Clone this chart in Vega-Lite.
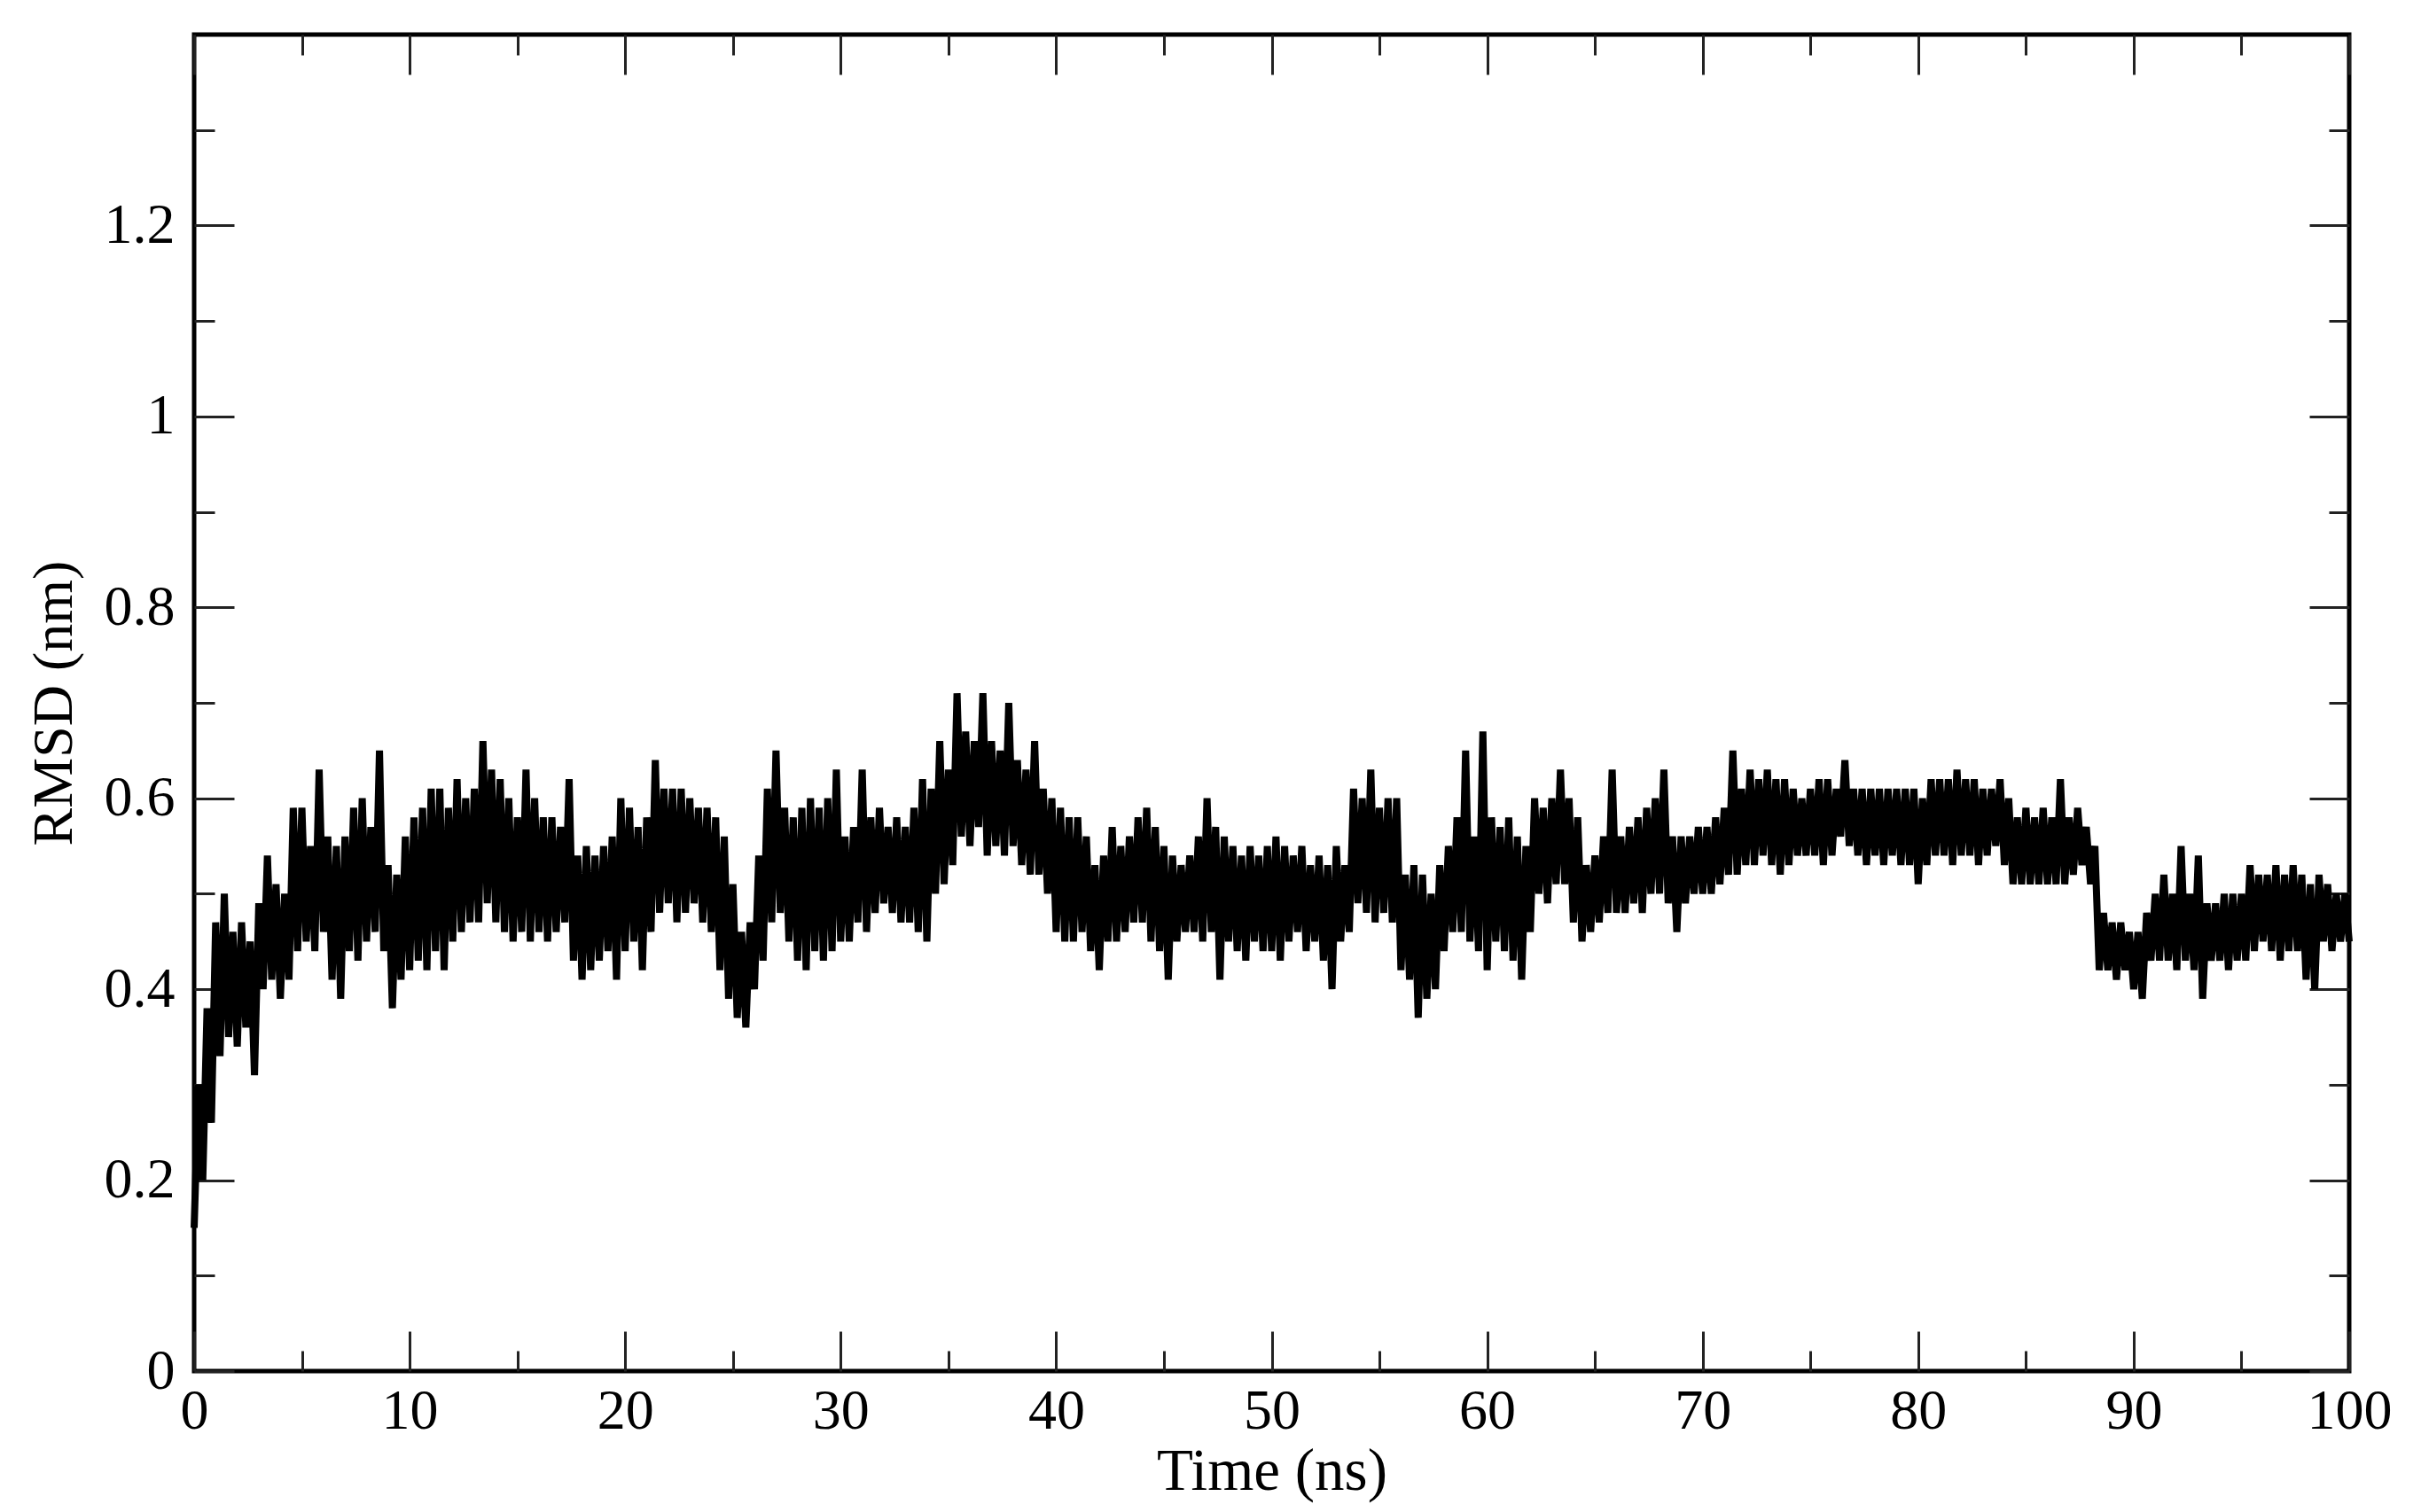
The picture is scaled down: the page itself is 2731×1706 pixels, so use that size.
{
"$schema": "https://vega.github.io/schema/vega-lite/v6.json",
"width": 2431,
"height": 1508,
"autosize": {"type": "none"},
"padding": {"left": 219, "top": 39, "right": 81, "bottom": 159},
"background": "white",
"config": {
  "view": {"stroke": "black", "strokeWidth": 5},
  "axis": {"grid": false, "domain": false, "labelFont": "Liberation Serif", "titleFont": "Liberation Serif", "labelColor": "black", "titleColor": "black", "tickColor": "#222", "tickWidth": 3, "labelFontWeight": "normal", "titleFontWeight": "normal", "labelFlush": false, "labelOverlap": false, "labelBound": false}
},
"data": {"values": [
{"time":0,"rmsd":0.15},{"time":0.2,"rmsd":0.30},{"time":0.4,"rmsd":0.20},{"time":0.6,"rmsd":0.38},{"time":0.8,"rmsd":0.26},
{"time":1,"rmsd":0.47},{"time":1.2,"rmsd":0.33},{"time":1.4,"rmsd":0.50},{"time":1.6,"rmsd":0.35},{"time":1.8,"rmsd":0.46},
{"time":2,"rmsd":0.34},{"time":2.2,"rmsd":0.47},{"time":2.4,"rmsd":0.36},{"time":2.6,"rmsd":0.45},{"time":2.8,"rmsd":0.31},
{"time":3,"rmsd":0.49},{"time":3.2,"rmsd":0.40},{"time":3.4,"rmsd":0.54},{"time":3.6,"rmsd":0.41},{"time":3.8,"rmsd":0.51},
{"time":4,"rmsd":0.39},{"time":4.2,"rmsd":0.50},{"time":4.4,"rmsd":0.41},{"time":4.6,"rmsd":0.59},{"time":4.8,"rmsd":0.44},
{"time":5,"rmsd":0.59},{"time":5.2,"rmsd":0.45},{"time":5.4,"rmsd":0.55},{"time":5.6,"rmsd":0.44},{"time":5.8,"rmsd":0.63},
{"time":6,"rmsd":0.46},{"time":6.2,"rmsd":0.56},{"time":6.4,"rmsd":0.41},{"time":6.6,"rmsd":0.55},{"time":6.8,"rmsd":0.39},
{"time":7,"rmsd":0.56},{"time":7.2,"rmsd":0.44},{"time":7.4,"rmsd":0.59},{"time":7.6,"rmsd":0.43},{"time":7.8,"rmsd":0.60},
{"time":8,"rmsd":0.45},{"time":8.2,"rmsd":0.57},{"time":8.4,"rmsd":0.46},{"time":8.6,"rmsd":0.65},{"time":8.8,"rmsd":0.44},
{"time":9,"rmsd":0.53},{"time":9.2,"rmsd":0.38},{"time":9.4,"rmsd":0.52},{"time":9.6,"rmsd":0.41},{"time":9.8,"rmsd":0.56},
{"time":10,"rmsd":0.42},{"time":10.2,"rmsd":0.58},{"time":10.4,"rmsd":0.43},{"time":10.6,"rmsd":0.59},{"time":10.8,"rmsd":0.42},
{"time":11,"rmsd":0.61},{"time":11.2,"rmsd":0.44},{"time":11.4,"rmsd":0.61},{"time":11.6,"rmsd":0.42},{"time":11.8,"rmsd":0.59},
{"time":12,"rmsd":0.45},{"time":12.2,"rmsd":0.62},{"time":12.4,"rmsd":0.46},{"time":12.6,"rmsd":0.60},{"time":12.8,"rmsd":0.47},
{"time":13,"rmsd":0.61},{"time":13.2,"rmsd":0.47},{"time":13.4,"rmsd":0.66},{"time":13.6,"rmsd":0.49},{"time":13.8,"rmsd":0.63},
{"time":14,"rmsd":0.47},{"time":14.2,"rmsd":0.62},{"time":14.4,"rmsd":0.46},{"time":14.6,"rmsd":0.60},{"time":14.8,"rmsd":0.45},
{"time":15,"rmsd":0.58},{"time":15.2,"rmsd":0.46},{"time":15.4,"rmsd":0.63},{"time":15.6,"rmsd":0.45},{"time":15.8,"rmsd":0.60},
{"time":16,"rmsd":0.46},{"time":16.2,"rmsd":0.58},{"time":16.4,"rmsd":0.45},{"time":16.6,"rmsd":0.58},{"time":16.8,"rmsd":0.46},
{"time":17,"rmsd":0.57},{"time":17.2,"rmsd":0.47},{"time":17.4,"rmsd":0.62},{"time":17.6,"rmsd":0.43},{"time":17.8,"rmsd":0.54},
{"time":18,"rmsd":0.41},{"time":18.2,"rmsd":0.55},{"time":18.4,"rmsd":0.42},{"time":18.6,"rmsd":0.54},{"time":18.8,"rmsd":0.43},
{"time":19,"rmsd":0.55},{"time":19.2,"rmsd":0.44},{"time":19.4,"rmsd":0.56},{"time":19.6,"rmsd":0.41},{"time":19.8,"rmsd":0.60},
{"time":20,"rmsd":0.44},{"time":20.2,"rmsd":0.59},{"time":20.4,"rmsd":0.45},{"time":20.6,"rmsd":0.57},{"time":20.8,"rmsd":0.42},
{"time":21,"rmsd":0.58},{"time":21.2,"rmsd":0.46},{"time":21.4,"rmsd":0.64},{"time":21.6,"rmsd":0.48},{"time":21.8,"rmsd":0.61},
{"time":22,"rmsd":0.49},{"time":22.2,"rmsd":0.61},{"time":22.4,"rmsd":0.47},{"time":22.6,"rmsd":0.61},{"time":22.8,"rmsd":0.48},
{"time":23,"rmsd":0.60},{"time":23.2,"rmsd":0.49},{"time":23.4,"rmsd":0.59},{"time":23.6,"rmsd":0.47},{"time":23.8,"rmsd":0.59},
{"time":24,"rmsd":0.46},{"time":24.2,"rmsd":0.58},{"time":24.4,"rmsd":0.42},{"time":24.6,"rmsd":0.56},{"time":24.8,"rmsd":0.39},
{"time":25,"rmsd":0.51},{"time":25.2,"rmsd":0.37},{"time":25.4,"rmsd":0.46},{"time":25.6,"rmsd":0.36},{"time":25.8,"rmsd":0.47},
{"time":26,"rmsd":0.40},{"time":26.2,"rmsd":0.54},{"time":26.4,"rmsd":0.43},{"time":26.6,"rmsd":0.61},{"time":26.8,"rmsd":0.47},
{"time":27,"rmsd":0.65},{"time":27.2,"rmsd":0.48},{"time":27.4,"rmsd":0.59},{"time":27.6,"rmsd":0.45},{"time":27.8,"rmsd":0.58},
{"time":28,"rmsd":0.43},{"time":28.2,"rmsd":0.59},{"time":28.4,"rmsd":0.42},{"time":28.6,"rmsd":0.60},{"time":28.8,"rmsd":0.44},
{"time":29,"rmsd":0.59},{"time":29.2,"rmsd":0.43},{"time":29.4,"rmsd":0.60},{"time":29.6,"rmsd":0.44},{"time":29.8,"rmsd":0.63},
{"time":30,"rmsd":0.45},{"time":30.2,"rmsd":0.56},{"time":30.4,"rmsd":0.45},{"time":30.6,"rmsd":0.57},{"time":30.8,"rmsd":0.47},
{"time":31,"rmsd":0.63},{"time":31.2,"rmsd":0.46},{"time":31.4,"rmsd":0.58},{"time":31.6,"rmsd":0.48},{"time":31.8,"rmsd":0.59},
{"time":32,"rmsd":0.49},{"time":32.2,"rmsd":0.57},{"time":32.4,"rmsd":0.48},{"time":32.6,"rmsd":0.58},{"time":32.8,"rmsd":0.47},
{"time":33,"rmsd":0.57},{"time":33.2,"rmsd":0.47},{"time":33.4,"rmsd":0.59},{"time":33.6,"rmsd":0.46},{"time":33.8,"rmsd":0.62},
{"time":34,"rmsd":0.45},{"time":34.2,"rmsd":0.61},{"time":34.4,"rmsd":0.50},{"time":34.6,"rmsd":0.66},{"time":34.8,"rmsd":0.51},
{"time":35,"rmsd":0.63},{"time":35.2,"rmsd":0.53},{"time":35.4,"rmsd":0.71},{"time":35.6,"rmsd":0.56},{"time":35.8,"rmsd":0.67},
{"time":36,"rmsd":0.55},{"time":36.2,"rmsd":0.66},{"time":36.4,"rmsd":0.57},{"time":36.6,"rmsd":0.71},{"time":36.8,"rmsd":0.54},
{"time":37,"rmsd":0.66},{"time":37.2,"rmsd":0.55},{"time":37.4,"rmsd":0.65},{"time":37.6,"rmsd":0.54},{"time":37.8,"rmsd":0.70},
{"time":38,"rmsd":0.55},{"time":38.2,"rmsd":0.64},{"time":38.4,"rmsd":0.53},{"time":38.6,"rmsd":0.63},{"time":38.8,"rmsd":0.52},
{"time":39,"rmsd":0.66},{"time":39.2,"rmsd":0.52},{"time":39.4,"rmsd":0.61},{"time":39.6,"rmsd":0.50},{"time":39.8,"rmsd":0.60},
{"time":40,"rmsd":0.46},{"time":40.2,"rmsd":0.59},{"time":40.4,"rmsd":0.45},{"time":40.6,"rmsd":0.58},{"time":40.8,"rmsd":0.45},
{"time":41,"rmsd":0.58},{"time":41.2,"rmsd":0.46},{"time":41.4,"rmsd":0.56},{"time":41.6,"rmsd":0.44},{"time":41.8,"rmsd":0.53},
{"time":42,"rmsd":0.42},{"time":42.2,"rmsd":0.54},{"time":42.4,"rmsd":0.45},{"time":42.6,"rmsd":0.57},{"time":42.8,"rmsd":0.45},
{"time":43,"rmsd":0.55},{"time":43.2,"rmsd":0.46},{"time":43.4,"rmsd":0.56},{"time":43.6,"rmsd":0.47},{"time":43.8,"rmsd":0.58},
{"time":44,"rmsd":0.47},{"time":44.2,"rmsd":0.59},{"time":44.4,"rmsd":0.45},{"time":44.6,"rmsd":0.57},{"time":44.8,"rmsd":0.44},
{"time":45,"rmsd":0.55},{"time":45.2,"rmsd":0.41},{"time":45.4,"rmsd":0.54},{"time":45.6,"rmsd":0.45},{"time":45.8,"rmsd":0.53},
{"time":46,"rmsd":0.46},{"time":46.2,"rmsd":0.54},{"time":46.4,"rmsd":0.46},{"time":46.6,"rmsd":0.56},{"time":46.8,"rmsd":0.45},
{"time":47,"rmsd":0.60},{"time":47.2,"rmsd":0.46},{"time":47.4,"rmsd":0.57},{"time":47.6,"rmsd":0.41},{"time":47.8,"rmsd":0.56},
{"time":48,"rmsd":0.45},{"time":48.2,"rmsd":0.55},{"time":48.4,"rmsd":0.44},{"time":48.6,"rmsd":0.54},{"time":48.8,"rmsd":0.43},
{"time":49,"rmsd":0.55},{"time":49.2,"rmsd":0.45},{"time":49.4,"rmsd":0.54},{"time":49.6,"rmsd":0.44},{"time":49.8,"rmsd":0.55},
{"time":50,"rmsd":0.44},{"time":50.2,"rmsd":0.56},{"time":50.4,"rmsd":0.43},{"time":50.6,"rmsd":0.55},{"time":50.8,"rmsd":0.45},
{"time":51,"rmsd":0.54},{"time":51.2,"rmsd":0.46},{"time":51.4,"rmsd":0.55},{"time":51.6,"rmsd":0.44},{"time":51.8,"rmsd":0.53},
{"time":52,"rmsd":0.45},{"time":52.2,"rmsd":0.54},{"time":52.4,"rmsd":0.43},{"time":52.6,"rmsd":0.53},{"time":52.8,"rmsd":0.40},
{"time":53,"rmsd":0.55},{"time":53.2,"rmsd":0.45},{"time":53.4,"rmsd":0.53},{"time":53.6,"rmsd":0.46},{"time":53.8,"rmsd":0.61},
{"time":54,"rmsd":0.49},{"time":54.2,"rmsd":0.60},{"time":54.4,"rmsd":0.48},{"time":54.6,"rmsd":0.63},{"time":54.8,"rmsd":0.47},
{"time":55,"rmsd":0.59},{"time":55.2,"rmsd":0.48},{"time":55.4,"rmsd":0.60},{"time":55.6,"rmsd":0.47},{"time":55.8,"rmsd":0.60},
{"time":56,"rmsd":0.42},{"time":56.2,"rmsd":0.52},{"time":56.4,"rmsd":0.41},{"time":56.6,"rmsd":0.53},{"time":56.8,"rmsd":0.37},
{"time":57,"rmsd":0.52},{"time":57.2,"rmsd":0.39},{"time":57.4,"rmsd":0.50},{"time":57.6,"rmsd":0.40},{"time":57.8,"rmsd":0.53},
{"time":58,"rmsd":0.44},{"time":58.2,"rmsd":0.55},{"time":58.4,"rmsd":0.46},{"time":58.6,"rmsd":0.58},{"time":58.8,"rmsd":0.46},
{"time":59,"rmsd":0.65},{"time":59.2,"rmsd":0.45},{"time":59.4,"rmsd":0.56},{"time":59.6,"rmsd":0.44},{"time":59.8,"rmsd":0.67},
{"time":60,"rmsd":0.42},{"time":60.2,"rmsd":0.58},{"time":60.4,"rmsd":0.45},{"time":60.6,"rmsd":0.57},{"time":60.8,"rmsd":0.44},
{"time":61,"rmsd":0.58},{"time":61.2,"rmsd":0.43},{"time":61.4,"rmsd":0.56},{"time":61.6,"rmsd":0.41},{"time":61.8,"rmsd":0.55},
{"time":62,"rmsd":0.46},{"time":62.2,"rmsd":0.60},{"time":62.4,"rmsd":0.50},{"time":62.6,"rmsd":0.59},{"time":62.8,"rmsd":0.49},
{"time":63,"rmsd":0.60},{"time":63.2,"rmsd":0.51},{"time":63.4,"rmsd":0.63},{"time":63.6,"rmsd":0.51},{"time":63.8,"rmsd":0.60},
{"time":64,"rmsd":0.47},{"time":64.2,"rmsd":0.58},{"time":64.4,"rmsd":0.45},{"time":64.6,"rmsd":0.53},{"time":64.8,"rmsd":0.46},
{"time":65,"rmsd":0.54},{"time":65.2,"rmsd":0.47},{"time":65.4,"rmsd":0.56},{"time":65.6,"rmsd":0.48},{"time":65.8,"rmsd":0.63},
{"time":66,"rmsd":0.48},{"time":66.2,"rmsd":0.56},{"time":66.4,"rmsd":0.48},{"time":66.6,"rmsd":0.57},{"time":66.8,"rmsd":0.49},
{"time":67,"rmsd":0.58},{"time":67.2,"rmsd":0.48},{"time":67.4,"rmsd":0.59},{"time":67.6,"rmsd":0.50},{"time":67.8,"rmsd":0.60},
{"time":68,"rmsd":0.50},{"time":68.2,"rmsd":0.63},{"time":68.4,"rmsd":0.49},{"time":68.6,"rmsd":0.56},{"time":68.8,"rmsd":0.46},
{"time":69,"rmsd":0.56},{"time":69.2,"rmsd":0.49},{"time":69.4,"rmsd":0.56},{"time":69.6,"rmsd":0.50},{"time":69.8,"rmsd":0.57},
{"time":70,"rmsd":0.50},{"time":70.2,"rmsd":0.57},{"time":70.4,"rmsd":0.50},{"time":70.6,"rmsd":0.58},{"time":70.8,"rmsd":0.51},
{"time":71,"rmsd":0.59},{"time":71.2,"rmsd":0.52},{"time":71.4,"rmsd":0.65},{"time":71.6,"rmsd":0.52},{"time":71.8,"rmsd":0.61},
{"time":72,"rmsd":0.53},{"time":72.2,"rmsd":0.63},{"time":72.4,"rmsd":0.53},{"time":72.6,"rmsd":0.62},{"time":72.8,"rmsd":0.54},
{"time":73,"rmsd":0.63},{"time":73.2,"rmsd":0.53},{"time":73.4,"rmsd":0.62},{"time":73.6,"rmsd":0.52},{"time":73.8,"rmsd":0.62},
{"time":74,"rmsd":0.53},{"time":74.2,"rmsd":0.61},{"time":74.4,"rmsd":0.54},{"time":74.6,"rmsd":0.60},{"time":74.8,"rmsd":0.54},
{"time":75,"rmsd":0.61},{"time":75.2,"rmsd":0.54},{"time":75.4,"rmsd":0.62},{"time":75.6,"rmsd":0.53},{"time":75.8,"rmsd":0.62},
{"time":76,"rmsd":0.54},{"time":76.2,"rmsd":0.61},{"time":76.4,"rmsd":0.56},{"time":76.6,"rmsd":0.64},{"time":76.8,"rmsd":0.55},
{"time":77,"rmsd":0.61},{"time":77.2,"rmsd":0.54},{"time":77.4,"rmsd":0.61},{"time":77.6,"rmsd":0.53},{"time":77.8,"rmsd":0.61},
{"time":78,"rmsd":0.54},{"time":78.2,"rmsd":0.61},{"time":78.4,"rmsd":0.53},{"time":78.6,"rmsd":0.61},{"time":78.8,"rmsd":0.54},
{"time":79,"rmsd":0.61},{"time":79.2,"rmsd":0.53},{"time":79.4,"rmsd":0.61},{"time":79.6,"rmsd":0.53},{"time":79.8,"rmsd":0.61},
{"time":80,"rmsd":0.51},{"time":80.2,"rmsd":0.60},{"time":80.4,"rmsd":0.53},{"time":80.6,"rmsd":0.62},{"time":80.8,"rmsd":0.54},
{"time":81,"rmsd":0.62},{"time":81.2,"rmsd":0.54},{"time":81.4,"rmsd":0.62},{"time":81.6,"rmsd":0.53},{"time":81.8,"rmsd":0.63},
{"time":82,"rmsd":0.54},{"time":82.2,"rmsd":0.62},{"time":82.4,"rmsd":0.54},{"time":82.6,"rmsd":0.62},{"time":82.8,"rmsd":0.53},
{"time":83,"rmsd":0.61},{"time":83.2,"rmsd":0.54},{"time":83.4,"rmsd":0.61},{"time":83.6,"rmsd":0.55},{"time":83.8,"rmsd":0.62},
{"time":84,"rmsd":0.53},{"time":84.2,"rmsd":0.60},{"time":84.4,"rmsd":0.51},{"time":84.6,"rmsd":0.58},{"time":84.8,"rmsd":0.51},
{"time":85,"rmsd":0.59},{"time":85.2,"rmsd":0.51},{"time":85.4,"rmsd":0.58},{"time":85.6,"rmsd":0.51},{"time":85.8,"rmsd":0.59},
{"time":86,"rmsd":0.51},{"time":86.2,"rmsd":0.58},{"time":86.4,"rmsd":0.51},{"time":86.6,"rmsd":0.62},{"time":86.8,"rmsd":0.51},
{"time":87,"rmsd":0.58},{"time":87.2,"rmsd":0.52},{"time":87.4,"rmsd":0.59},{"time":87.6,"rmsd":0.53},{"time":87.8,"rmsd":0.57},
{"time":88,"rmsd":0.51},{"time":88.2,"rmsd":0.55},{"time":88.4,"rmsd":0.42},{"time":88.6,"rmsd":0.48},{"time":88.8,"rmsd":0.42},
{"time":89,"rmsd":0.47},{"time":89.2,"rmsd":0.41},{"time":89.4,"rmsd":0.47},{"time":89.6,"rmsd":0.42},{"time":89.8,"rmsd":0.46},
{"time":90,"rmsd":0.40},{"time":90.2,"rmsd":0.46},{"time":90.4,"rmsd":0.39},{"time":90.6,"rmsd":0.48},{"time":90.8,"rmsd":0.43},
{"time":91,"rmsd":0.50},{"time":91.2,"rmsd":0.43},{"time":91.4,"rmsd":0.52},{"time":91.6,"rmsd":0.43},{"time":91.8,"rmsd":0.50},
{"time":92,"rmsd":0.42},{"time":92.2,"rmsd":0.55},{"time":92.4,"rmsd":0.43},{"time":92.6,"rmsd":0.50},{"time":92.8,"rmsd":0.42},
{"time":93,"rmsd":0.54},{"time":93.2,"rmsd":0.39},{"time":93.4,"rmsd":0.49},{"time":93.6,"rmsd":0.43},{"time":93.8,"rmsd":0.49},
{"time":94,"rmsd":0.43},{"time":94.2,"rmsd":0.50},{"time":94.4,"rmsd":0.42},{"time":94.6,"rmsd":0.50},{"time":94.8,"rmsd":0.43},
{"time":95,"rmsd":0.50},{"time":95.2,"rmsd":0.43},{"time":95.4,"rmsd":0.53},{"time":95.6,"rmsd":0.44},{"time":95.8,"rmsd":0.52},
{"time":96,"rmsd":0.45},{"time":96.2,"rmsd":0.52},{"time":96.4,"rmsd":0.44},{"time":96.6,"rmsd":0.53},{"time":96.8,"rmsd":0.43},
{"time":97,"rmsd":0.52},{"time":97.2,"rmsd":0.44},{"time":97.4,"rmsd":0.53},{"time":97.6,"rmsd":0.44},{"time":97.8,"rmsd":0.52},
{"time":98,"rmsd":0.41},{"time":98.2,"rmsd":0.51},{"time":98.4,"rmsd":0.40},{"time":98.6,"rmsd":0.52},{"time":98.8,"rmsd":0.45},
{"time":99,"rmsd":0.51},{"time":99.2,"rmsd":0.44},{"time":99.4,"rmsd":0.50},{"time":99.6,"rmsd":0.45},{"time":99.8,"rmsd":0.50},
{"time":100,"rmsd":0.45}
]},
"layer": [
  {
    "mark": {"type": "line", "color": "black", "strokeWidth": 8},
    "encoding": {
      "x": {"field": "time", "type": "quantitative", "scale": {"domain": [0, 100], "nice": false, "zero": false},
        "axis": {"orient": "bottom", "values": [0,10,20,30,40,50,60,70,80,90,100], "format": "d", "tickSize": -45, "labelPadding": 58, "labelFontSize": 64,
          "title": "Time (ns)", "titleFontSize": 67, "titleX": 1215.5, "titleY": 133, "titleBaseline": "alphabetic", "titleAlign": "center"}},
      "y": {"field": "rmsd", "type": "quantitative", "scale": {"domain": [0, 1.4], "nice": false, "zero": false},
        "axis": {"orient": "left", "values": [0,0.2,0.4,0.6,0.8,1,1.2], "format": ".1~f", "tickSize": -45, "labelPadding": 67, "labelFontSize": 64,
          "title": "RMSD (nm)", "titleFontSize": 64, "titleAngle": -90, "titleX": -158, "titleY": 754, "titleBaseline": "middle", "titleAlign": "center"}}
    }
  },
  {
    "mark": {"type": "line", "strokeOpacity": 0},
    "encoding": {
      "x": {"field": "time", "type": "quantitative", "scale": {"domain": [0, 100], "nice": false, "zero": false},
        "axis": {"orient": "top", "values": [0,10,20,30,40,50,60,70,80,90,100], "tickSize": -45, "labels": false, "title": null}},
      "y": {"field": "rmsd", "type": "quantitative", "scale": {"domain": [0, 1.4], "nice": false, "zero": false},
        "axis": {"orient": "right", "values": [0,0.2,0.4,0.6,0.8,1,1.2], "tickSize": -45, "labels": false, "title": null}}
    }
  },
  {
    "mark": {"type": "line", "strokeOpacity": 0},
    "encoding": {
      "x": {"field": "time", "type": "quantitative", "scale": {"domain": [0, 100], "nice": false, "zero": false},
        "axis": {"orient": "bottom", "values": [5,15,25,35,45,55,65,75,85,95], "tickSize": -23, "labels": false, "title": null}},
      "y": {"field": "rmsd", "type": "quantitative", "scale": {"domain": [0, 1.4], "nice": false, "zero": false},
        "axis": {"orient": "left", "values": [0.1,0.3,0.5,0.7,0.9,1.1,1.3], "tickSize": -23, "labels": false, "title": null}}
    }
  },
  {
    "mark": {"type": "line", "strokeOpacity": 0},
    "encoding": {
      "x": {"field": "time", "type": "quantitative", "scale": {"domain": [0, 100], "nice": false, "zero": false},
        "axis": {"orient": "top", "values": [5,15,25,35,45,55,65,75,85,95], "tickSize": -23, "labels": false, "title": null}},
      "y": {"field": "rmsd", "type": "quantitative", "scale": {"domain": [0, 1.4], "nice": false, "zero": false},
        "axis": {"orient": "right", "values": [0.1,0.3,0.5,0.7,0.9,1.1,1.3], "tickSize": -23, "labels": false, "title": null}}
    }
  }
],
"resolve": {"axis": {"x": "independent", "y": "independent"}}
}
